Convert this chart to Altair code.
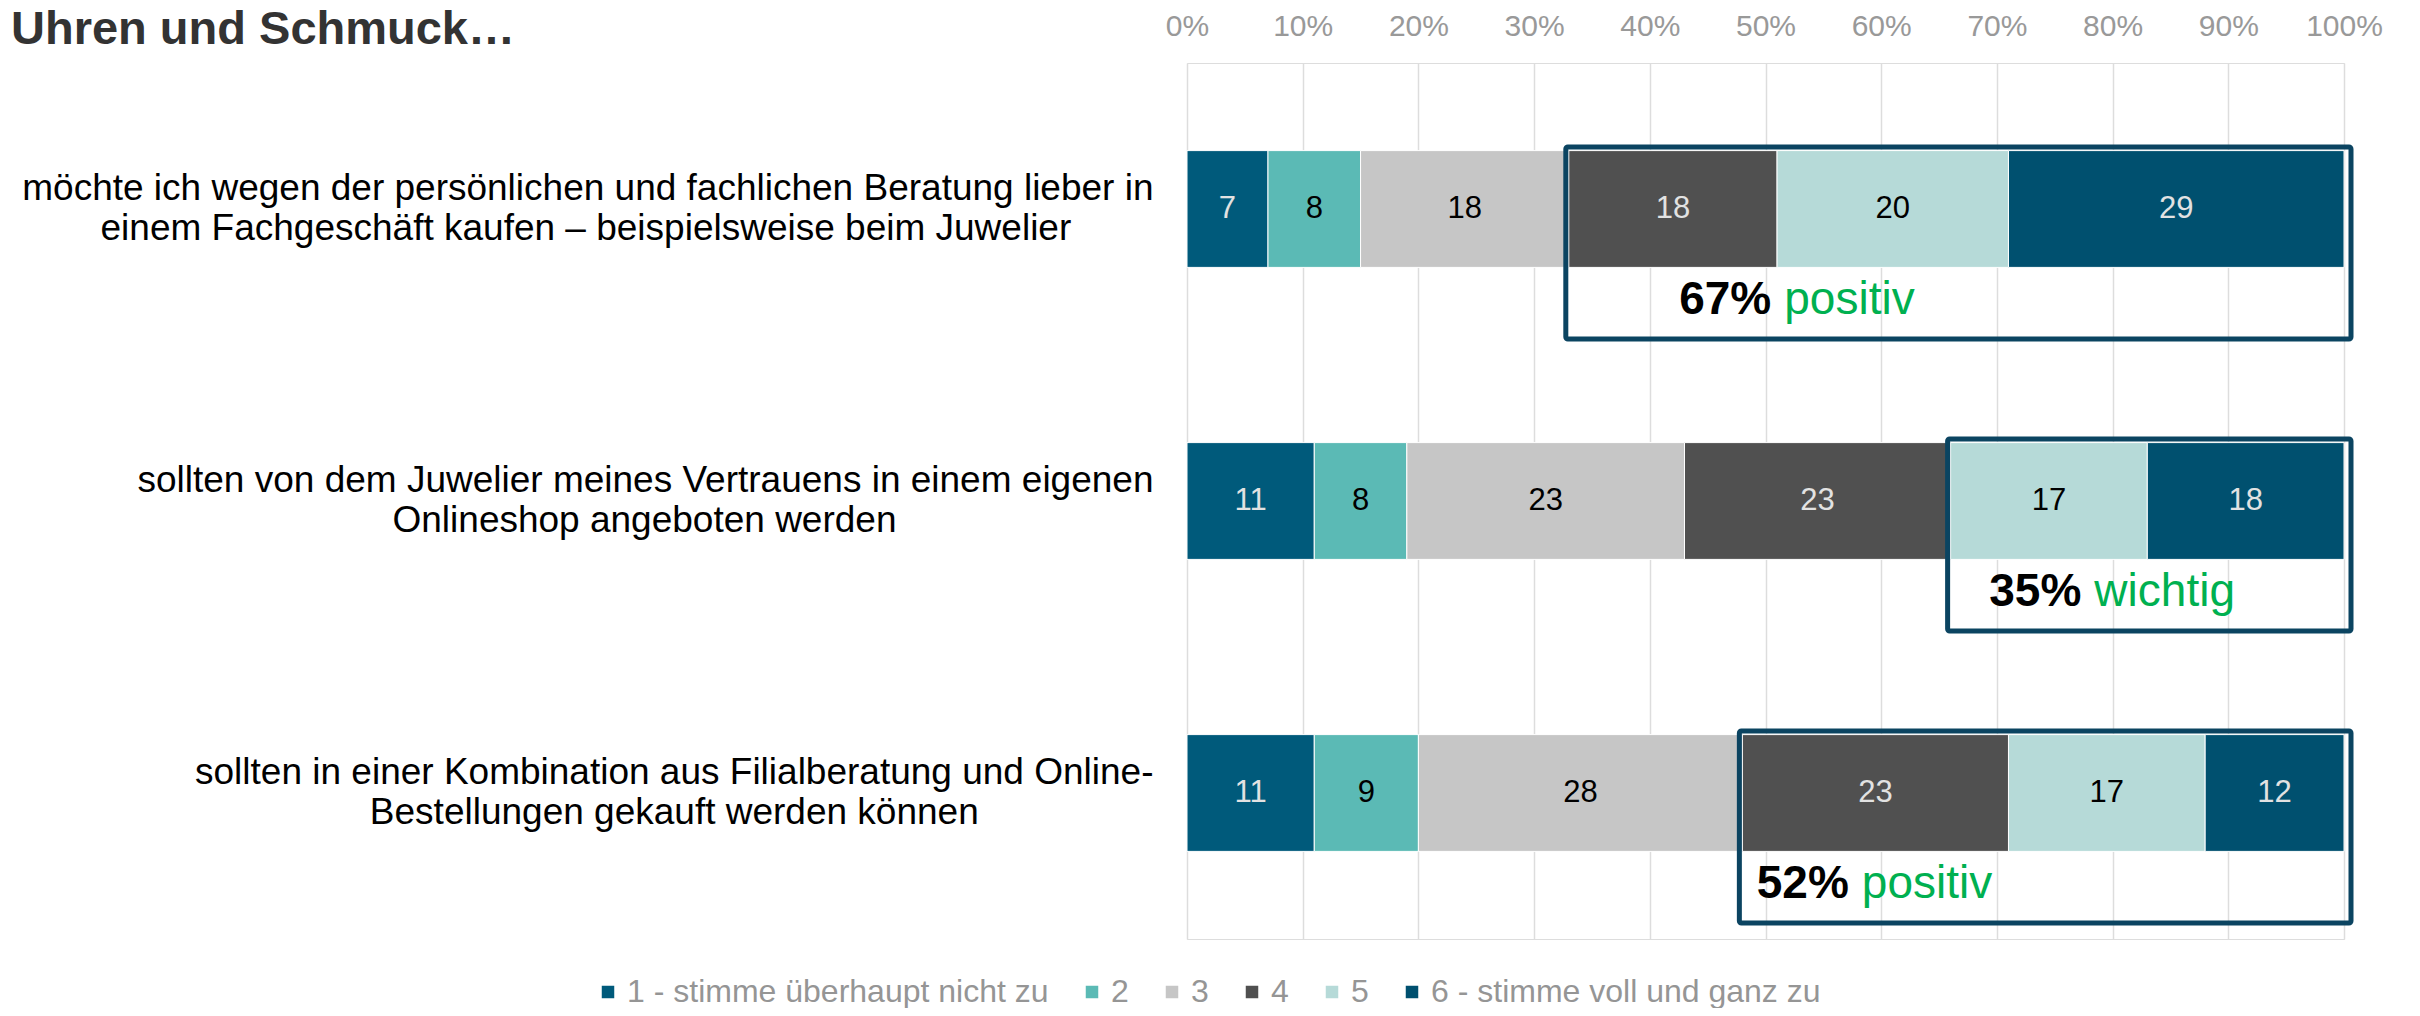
import altair as alt
import pandas as pd

TITLE = "Uhren und Schmuck…"
STATEMENTS = [
    ["möchte ich wegen der persönlichen und fachlichen Beratung lieber in",
     "einem Fachgeschäft kaufen – beispielsweise beim Juwelier"],
    ["sollten von dem Juwelier meines Vertrauens in einem eigenen",
     "Onlineshop angeboten werden"],
    ["sollten in einer Kombination aus Filialberatung und Online-",
     "Bestellungen gekauft werden können"],
]
LEVELS = ["1 - stimme überhaupt nicht zu", "2", "3", "4", "5", "6 - stimme voll und ganz zu"]
COLORS = ["#005A7B", "#5BBAB5", "#C6C6C6", "#505050", "#B6DAD8", "#00506F"]
# segment lengths as drawn (percent)
ROW1 = [7, 8, 18, 18, 20, 29]
ROW2 = [11, 8, 24, 23, 17, 17]
ROW3 = [11, 9, 28, 23, 17, 12]
# numbers printed inside the segments
ROW1_LABELS = [7, 8, 18, 18, 20, 29]
ROW2_LABELS = [11, 8, 23, 23, 17, 18]
ROW3_LABELS = [11, 9, 28, 23, 17, 12]
BOX_FROM_LEVEL = [4, 5, 4]
BOX_WORDS = ["positiv", "wichtig", "positiv"]
ANN_X = [50.5, 77.3, 57.2]
X_TICKS = list(range(0, 101, 10))

FONT = "Liberation Sans"

# Arial-compatible advance widths (1/1000 em) to centre the lines of a right-aligned label block
W = dict(zip("abcdefghijklmnopqrstuvwxyz",
             [556, 556, 500, 556, 556, 278, 556, 556, 222, 222, 500, 222, 833, 556, 556, 556, 556, 333, 500,
              278, 556, 500, 722, 500, 500, 500]))
W.update(dict(zip("ABCDEFGHIJKLMNOPQRSTUVWXYZ",
                  [667, 667, 722, 722, 667, 611, 778, 722, 278, 500, 667, 556, 833, 722, 778, 667, 778, 722, 667,
                   611, 722, 667, 944, 667, 667, 611])))
W.update({"ä": 556, "ö": 556, "ü": 556, "ß": 611, " ": 278, "-": 333, "–": 556})


def text_w(s):
    return sum(W.get(c, 556) for c in s)


def centered(lines):
    m = max(text_w(l) for l in lines)
    out = []
    for l in lines:
        n = round((m - text_w(l)) / 2 / 278)
        out.append(l + ("\u00a0" * n + "\u200b" if n else ""))
    return "\n".join(out)


CATS = [centered(s) for s in STATEMENTS]

rows = []
boxes = []
for i, (vals, labs) in enumerate(zip([ROW1, ROW2, ROW3], [ROW1_LABELS, ROW2_LABELS, ROW3_LABELS])):
    start = 0
    for k, (lev, v, lab) in enumerate(zip(LEVELS, vals, labs)):
        rows.append(dict(cat=CATS[i], level=lev, rank=k, value=v, label=lab, x0=start, x1=start + v))
        start += v
    f = BOX_FROM_LEVEL[i] - 1
    boxes.append(dict(cat=CATS[i], x0=sum(vals[:f]), x1=sum(vals), pct=sum(labs[f:]),
                      word=BOX_WORDS[i], ann_x=ANN_X[i]))
df = pd.DataFrame(rows)
box_df = pd.DataFrame(boxes)

x_scale = alt.Scale(domain=[0, 100], nice=False)
x_axis = alt.Axis(orient="top", values=X_TICKS, labelExpr="datum.value + '%'", labelFlush=False,
                  grid=True, gridColor="#DDDDDD", gridWidth=1.5, domain=False, ticks=False,
                  labelColor="#999999", labelFontSize=30, labelFont=FONT, labelPadding=28,
                  labelBaseline="alphabetic")


def X(field):
    return alt.X(field, type="quantitative", scale=x_scale, axis=x_axis, title=None)


y_enc = alt.Y("cat:N", sort=CATS, title=None,
              scale=alt.Scale(paddingInner=0.6, paddingOuter=0.3),
              axis=alt.Axis(domain=False, ticks=False, grid=False, labelFontSize=37, labelFont=FONT,
                            labelColor="black", labelAlign="right", labelBaseline="middle",
                            labelPadding=34, labelLineHeight=40, labelOffset=-20, labelLimit=3000,
                            labelExpr="split(datum.label, '\\n')"))

bars = alt.Chart(df).mark_bar(stroke="white", strokeWidth=1).encode(
    x=X("x0"), x2="x1:Q", y=y_enc,
    color=alt.Color("level:N", scale=alt.Scale(domain=LEVELS, range=COLORS),
                    legend=alt.Legend(orient="none", legendX=-595, legendY=913, direction="horizontal",
                                      columns=6, title=None, labelFontSize=32, labelFont=FONT,
                                      labelColor="#959595", symbolType="square", symbolSize=156,
                                      symbolStrokeWidth=0, labelOffset=3, columnPadding=27,
                                      labelLimit=1000)),
    order=alt.Order("rank:Q"),
)

values = alt.Chart(df).transform_calculate(xm="(datum.x0 + datum.x1) / 2").mark_text(
    fontSize=31, font=FONT, baseline="middle"
).encode(
    x=X("xm"), y=y_enc, text="label:Q",
    color=alt.condition(alt.FieldOneOfPredicate(field="level", oneOf=[LEVELS[0], LEVELS[3], LEVELS[5]]),
                        alt.value("#E2E2E2"), alt.value("black")),
)

frames = alt.Chart(box_df).mark_bar(
    fillOpacity=0, stroke="#0B4461", strokeWidth=5, cornerRadius=2,
    height={"band": 1.644}, yOffset=34, xOffset=-3, x2Offset=7
).encode(x=X("x0"), x2="x1:Q", y=y_enc)

pct_txt = alt.Chart(box_df).transform_calculate(lbl="datum.pct + '%'").mark_text(
    align="right", baseline="alphabetic", fontSize=46, fontWeight="bold", font=FONT, color="black", dy=105
).encode(x=X("ann_x"), y=y_enc, text="lbl:N")

word_txt = alt.Chart(box_df).mark_text(
    align="left", baseline="alphabetic", fontSize=46, font=FONT, color="#00B050", dx=13, dy=105
).encode(x=X("ann_x"), y=y_enc, text="word:N")

title = alt.Chart(alt.Data(values=[{"t": TITLE}])).mark_text(
    align="left", baseline="alphabetic", fontSize=47, fontWeight="bold", font=FONT, color="#333333"
).encode(x=alt.value(-1176), y=alt.value(-19), text="t:N")

chart = alt.layer(bars, values, frames, pct_txt, word_txt, title).properties(
    width=1157, height=876,
    autosize=alt.AutoSizeParams(type="none"),
    padding={"left": 1179, "top": 55, "right": 68, "bottom": 69},
).configure_view(stroke=None).configure(font=FONT)

chart.save("out.html", embed_options={"renderer": "svg", "actions": False})
